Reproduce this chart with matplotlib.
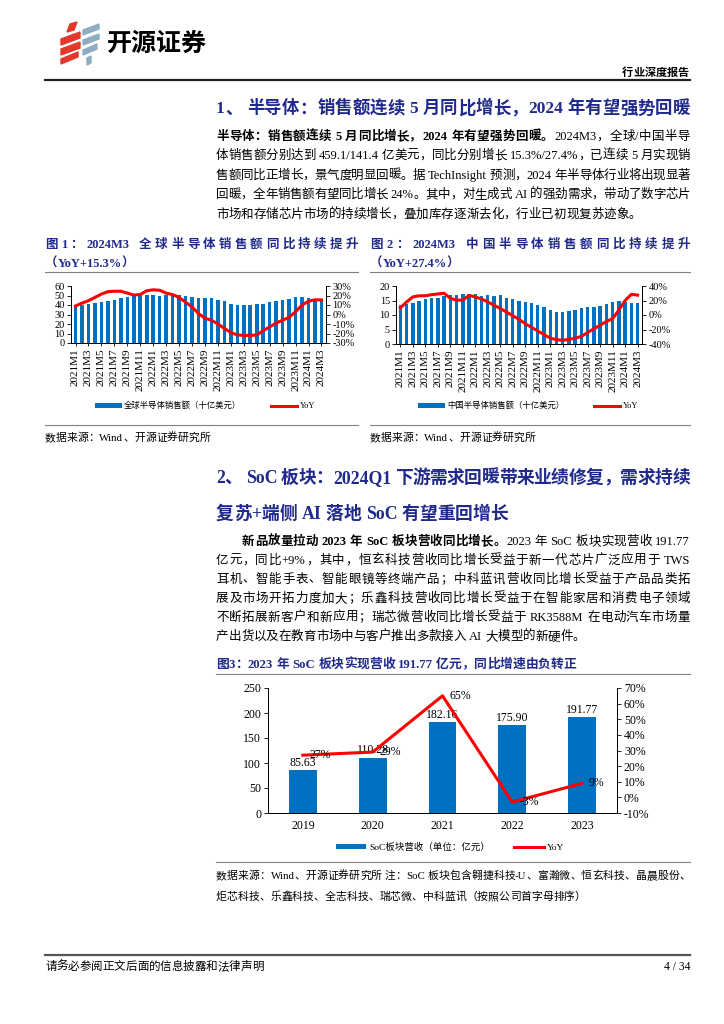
import re
import numpy as np
import matplotlib
matplotlib.use('Agg')
import matplotlib.pyplot as plt
from matplotlib.lines import Line2D
from matplotlib.patches import Polygon

W, H = 724, 1024
plt.rcParams['font.family'] = ['Liberation Serif', 'Noto Sans CJK SC']
plt.rcParams['axes.unicode_minus'] = False
NAVY = '#202A8C'
BLUE = '#0070C0'
RED = '#FF0000'

# ---- data ----
months = ['%dM%d' % (y, m) for y in (2021, 2022, 2023) for m in range(1, 13)] + ['2024M1', '2024M2', '2024M3']

global_sales = [40.0, 39.6, 41.0, 42.0, 43.6, 44.5, 45.4, 47.2, 48.3, 49.3, 50.2, 50.9,
                50.7, 49.8, 50.6, 51.0, 50.6, 49.5, 48.0, 47.1, 47.0, 46.9, 45.5, 43.7,
                41.3, 39.7, 39.8, 40.0, 40.7, 41.5, 43.2, 44.0, 44.9, 46.6, 48.0, 48.6,
                47.6, 46.2, 45.9]
global_yoy = [9, 12, 14.5, 18, 21.5, 24, 24.5, 24.5, 22.5, 20.5, 21, 25,
              26, 25.5, 22.5, 21, 18, 13, 8, 1, -4, -6, -10, -14.7,
              -19, -21.5, -22, -22, -21.5, -17, -13, -9, -6, -3, 3, 10,
              14, 15.5, 15.3]

china_sales = [13.6, 13.7, 14.3, 14.7, 15.5, 15.7, 16.0, 16.5, 16.8, 17.0, 17.1, 17.1,
               17.1, 16.7, 16.8, 16.7, 16.8, 16.0, 15.6, 14.8, 14.4, 14.1, 13.3, 12.7,
               11.6, 10.9, 11.0, 11.4, 11.8, 12.4, 12.7, 12.9, 13.1, 13.8, 14.4, 14.8,
               14.5, 14.1, 14.2]
china_yoy = [10, 18, 25, 26.5, 26.5, 28, 29, 30, 23, 20.5, 20.5, 27,
             25, 22, 18, 13.5, 9, 4, -1, -6, -12, -17, -22, -27,
             -32, -34, -35, -33.5, -32, -29.5, -24, -19, -14, -9, -5, 7,
             20, 28.5, 27.4]

soc_years = ['2019', '2020', '2021', '2022', '2023']
soc_rev = [85.63, 110.28, 182.16, 175.90, 191.77]
soc_yoy = [27, 29, 65, -3, 9]

fig = plt.figure(figsize=(W / 100, H / 100), dpi=100)
fig.patch.set_facecolor('white')
renderer = fig.canvas.get_renderer()


def fx(x):
    return x / W


def fy(y):
    return 1 - y / H


def rect(l, t, r, b):
    return [fx(l), fy(b), (r - l) / W, (b - t) / H]


def hline(x0, x1, y, lw=0.8, color='#808080'):
    fig.add_artist(Line2D([fx(x0), fx(x1)], [fy(y), fy(y)], lw=lw, color=color,
                          transform=fig.transFigure))


def text_line(segs, x0, y, size, x1=None, color='black'):
    # place a line token by token, spread out to x1 if given (justified)
    if isinstance(segs, str):
        segs = [(segs, 'normal')]
    items = []
    for s, wt in segs:
        for t in re.findall(r'[A-Za-z0-9.%/+\-]+|\s|.', s):
            items.append((t, wt))
    widths = []
    for t, wt in items:
        if t == ' ':
            widths.append(size * 100 / 72 * 0.25)
            continue
        a = fig.text(0, 0, t, fontsize=size, weight=wt)
        widths.append(a.get_window_extent(renderer).width)
        a.remove()
    gap = 0
    if x1 is not None and len(items) > 1:
        gap = (x1 - x0 - sum(widths)) / (len(items) - 1)
    base = y + 0.37 * size * 100 / 72
    x = x0
    for (t, wt), w in zip(items, widths):
        if t != ' ':
            fig.text(fx(x), fy(base), t, fontsize=size, weight=wt, color=color,
                     va='baseline', ha='left')
        x += w + gap


# ---- header ----
red_parts = [[(70, 24), (77, 22), (74, 30), (67, 32)],
             [(61, 39), (80, 32), (80, 38), (61, 45)],
             [(61, 49), (80, 42), (80, 48), (61, 55)],
             [(61, 59), (78, 52), (78, 57), (61, 64)]]
blue_parts = [[(83, 30), (99, 24), (99, 29), (83, 35)],
              [(83, 40), (99, 34), (99, 39), (83, 45)],
              [(83, 50), (97, 44), (97, 49), (83, 55)],
              [(87, 58), (91, 56), (91, 63), (87, 65)]]
for pts in red_parts:
    fig.add_artist(Polygon([(fx(a), fy(b)) for a, b in pts], closed=True, color='#E2382B',
                           transform=fig.transFigure))
for pts in blue_parts:
    fig.add_artist(Polygon([(fx(a), fy(b)) for a, b in pts], closed=True, color='#8EADC3',
                           transform=fig.transFigure))
fig.text(fx(107), fy(44), '开源证券', fontsize=18, weight='bold', va='center', ha='left',
         family=['Noto Sans CJK SC'])
text_line([('行业深度报告', 'bold')], 622, 72, 8)
hline(45, 690, 80, lw=1.6, color='#222222')

# ---- section 1 ----
text_line([('1、 半导体：销售额连续 5 月同比增长，2024 年有望强势回暖', 'bold')], 216, 107, 12.5, 690, NAVY)
p1 = [[('半导体：销售额连续 5 月同比增长，2024 年有望强势回暖。', 'bold'), ('2024M3，全球/中国半导', 'normal')],
      '体销售额分别达到 459.1/141.4 亿美元，同比分别增长 15.3%/27.4%，已连续 5 月实现销',
      '售额同比正增长，景气度明显回暖。据 TechInsight 预测，2024 年半导体行业将出现显著',
      '回暖，全年销售额有望同比增长 24%。其中，对生成式 AI 的强劲需求，带动了数字芯片',
      '市场和存储芯片市场的持续增长，叠加库存逐渐去化，行业已初现复苏迹象。']
for i, ln in enumerate(p1):
    text_line(ln, 216, 135 + i * 19.5, 9, 690 if i < len(p1) - 1 else None)

# ---- figure titles 1 and 2 ----
text_line([('图1：2024M3 全球半导体销售额同比持续提升', 'bold')], 45, 243, 9, 358, NAVY)
text_line([('（YoY+15.3%）', 'bold')], 45, 262, 9, None, NAVY)
text_line([('图2：2024M3 中国半导体销售额同比持续提升', 'bold')], 370, 243, 9, 690, NAVY)
text_line([('（YoY+27.4%）', 'bold')], 370, 262, 9, None, NAVY)
for a, b in ((45, 358), (370, 690)):
    hline(a, b, 272)
    hline(a, b, 425)

x = np.arange(len(months))


def month_chart(box, sales, yoy, ylim, ystep, rlim, rstep, label, lx, ly):
    ax = fig.add_axes(rect(*box))
    bars = ax.bar(x, sales, width=0.55, color=BLUE)
    ax.set_xlim(-0.7, len(months) - 0.3)
    ax.set_ylim(*ylim)
    ax.set_yticks(np.arange(ylim[0], ylim[1] + 0.1, ystep))
    ax.set_xticks(x[::2])
    ax.set_xticklabels(months[::2], rotation=90)
    axr = ax.twinx()
    ln, = axr.plot(x, yoy, color=RED, lw=2.2)
    axr.set_ylim(*rlim)
    axr.set_yticks(np.arange(rlim[0], rlim[1] + 0.1, rstep))
    axr.yaxis.set_major_formatter(lambda v, p: '%d%%' % v)
    for a in (ax, axr):
        a.spines['top'].set_visible(False)
        a.tick_params(axis='y', labelsize=7.4, length=3, width=0.6, pad=1.5)
        for s in a.spines.values():
            s.set_linewidth(0.7)
    ax.tick_params(axis='x', labelsize=8, length=2, width=0.6, pad=2)
    fig.legend([bars, ln], [label, 'YoY'], loc='center', bbox_to_anchor=(fx(lx), fy(ly)), ncol=2,
               frameon=False, fontsize=6, handlelength=3.2, handleheight=0.5, columnspacing=3.5,
               handletextpad=0.3)


month_chart((71, 286, 326, 343), global_sales, global_yoy, (0, 60), 10, (-30, 30), 10,
            '全球半导体销售额（十亿美元）', 205, 406)
month_chart((396, 286, 642, 344), china_sales, china_yoy, (0, 20), 5, (-40, 40), 20,
            '中国半导体销售额（十亿美元）', 528, 406)

text_line('数据来源：Wind、开源证券研究所', 45, 437, 7.8)
text_line('数据来源：Wind、开源证券研究所', 370, 437, 7.8)

# ---- section 2 ----
text_line([('2、 SoC 板块：2024Q1 下游需求回暖带来业绩修复，需求持续', 'bold')], 216, 476, 12.8, 690, NAVY)
text_line([('复苏+端侧 AI 落地 SoC 有望重回增长', 'bold')], 216, 512, 12.8, None, NAVY)
p2 = [[('新品放量拉动 2023 年 SoC 板块营收同比增长。', 'bold'), ('2023 年 SoC 板块实现营收 191.77', 'normal')],
      '亿元，同比+9%，其中，恒玄科技营收同比增长受益于新一代芯片广泛应用于 TWS',
      '耳机、智能手表、智能眼镜等终端产品；中科蓝讯营收同比增长受益于产品品类拓',
      '展及市场开拓力度加大；乐鑫科技营收同比增长受益于在智能家居和消费电子领域',
      '不断拓展新客户和新应用；瑞芯微营收同比增长受益于 RK3588M 在电动汽车市场量',
      '产出货以及在教育市场中与客户推出多款接入 AI 大模型的新硬件。']
for i, ln in enumerate(p2):
    text_line(ln, 242 if i == 0 else 216, 540 + i * 19, 9, 690 if i < len(p2) - 1 else None)

text_line([('图3：2023 年 SoC 板块实现营收 191.77 亿元，同比增速由负转正', 'bold')], 216, 663, 9.2, None, NAVY)
hline(216, 690, 674)

# ---- chart 3 ----
xs = np.arange(len(soc_years))
ax3 = fig.add_axes(rect(268, 688, 617, 813))
b3 = ax3.bar(xs, soc_rev, width=0.4, color=BLUE)
ax3.set_xlim(-0.5, len(soc_years) - 0.5)
ax3.set_ylim(0, 250)
ax3.set_yticks(range(0, 251, 50))
ax3.set_xticks(xs)
ax3.set_xticklabels(soc_years)
ax3.tick_params(axis='x', length=0, pad=5)
for i, v in enumerate(soc_rev):
    ax3.annotate('%.2f' % v, (i, v), xytext=(0, 1), textcoords='offset points', ha='center',
                 va='bottom', fontsize=8.5)
ax3r = ax3.twinx()
l3, = ax3r.plot(xs, soc_yoy, color=RED, lw=2.2)
ax3r.set_ylim(-10, 70)
ax3r.set_yticks(range(-10, 71, 10))
ax3r.yaxis.set_major_formatter(lambda v, p: '%d%%' % v)
for i, v in enumerate(soc_yoy):
    ax3r.annotate('%d%%' % v, (i, v), xytext=(5, 0), textcoords='offset points', ha='left',
                  va='center', fontsize=8.5)
for a in (ax3, ax3r):
    a.spines['top'].set_visible(False)
    a.tick_params(axis='y', labelsize=8.5, length=3, width=0.6, pad=2)
    for s in a.spines.values():
        s.set_linewidth(0.7)
ax3.tick_params(axis='x', labelsize=8.5)
fig.legend([b3, l3], ['SoC板块营收（单位：亿元）', 'YoY'], loc='center', bbox_to_anchor=(fx(450), fy(847)),
           ncol=2, frameon=False, fontsize=6.8, handlelength=3.2, handleheight=0.5, columnspacing=2.5,
           handletextpad=0.3)

hline(216, 690, 862)
text_line('数据来源：Wind、开源证券研究所 注：SoC 板块包含翱捷科技-U、富瀚微、恒玄科技、晶晨股份、', 216, 875, 7.8, 690)
text_line('炬芯科技、乐鑫科技、全志科技、瑞芯微、中科蓝讯（按照公司首字母排序）', 216, 896, 7.8)

# ---- footer ----
hline(45, 690, 955, lw=1.6, color='#555555')
text_line('请务必参阅正文后面的信息披露和法律声明', 45, 966, 8.3)
fig.text(fx(690), fy(966 + 0.37 * 8.3 * 100 / 72), '4 / 34', fontsize=8.3, ha='right', va='baseline')

fig.savefig('out.png', dpi=100, facecolor='white')
